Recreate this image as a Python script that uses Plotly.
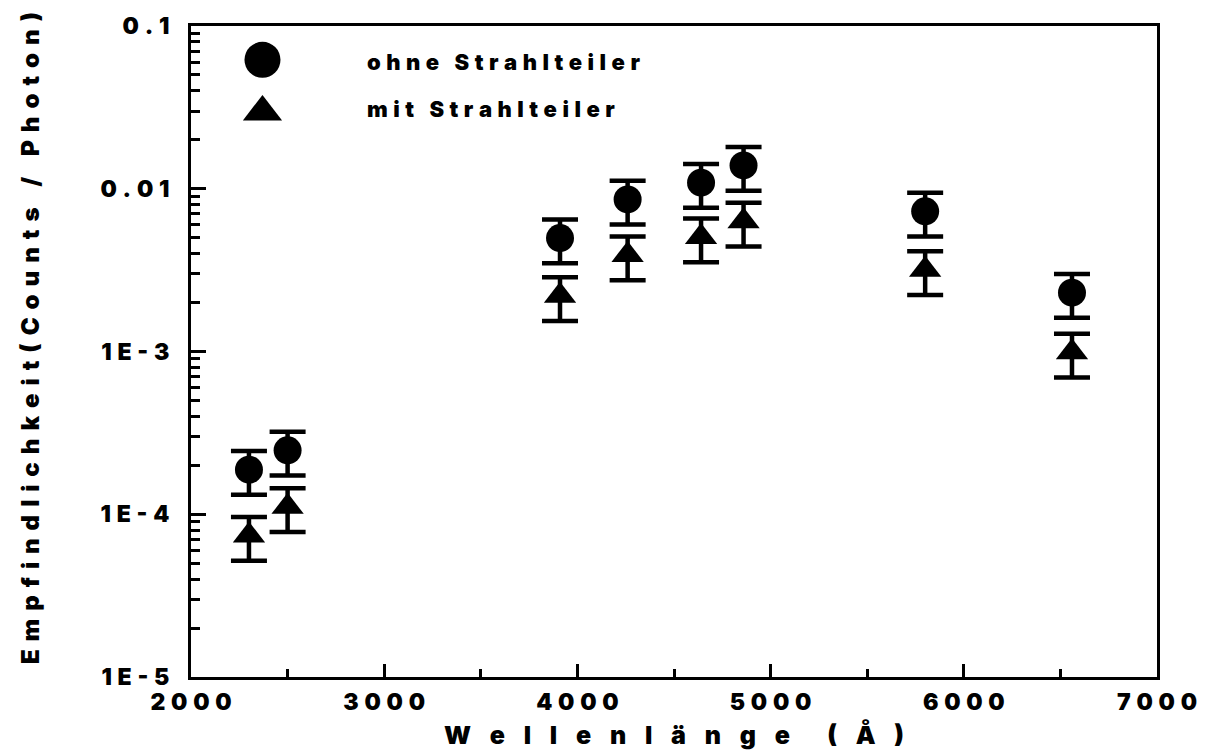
import plotly.graph_objects as go

# Wavelength (Angstrom) of each measurement
wavelength = [2300, 2500, 3910, 4260, 4640, 4860, 5800, 6560]
# Sensitivity without beam splitter (counts / photon)
ohne = [1.88e-4, 2.47e-4, 4.98e-3, 8.6e-3, 1.09e-2, 1.39e-2, 7.27e-3, 2.3e-3]
# Sensitivity with beam splitter (counts / photon)
mit = [7.4e-5, 1.11e-4, 2.2e-3, 3.92e-3, 5.05e-3, 6.32e-3, 3.18e-3, 9.9e-4]
# Relative uncertainty of every point, in percent
err_percent = 30

x_tickvals = [2000, 3000, 4000, 5000, 6000, 7000]
y_tickvals = [1e-5, 1e-4, 1e-3, 1e-2, 1e-1]
y_ticktext = ["1E-5", "1E-4", "1E-3", "0.01", "0.1"]

legend_names = ["ohne Strahlteiler", "mit Strahlteiler"]

FONT = "Inter"
WEIGHT = 900
QUARTER = "\u2005"   # four-per-em space, used as letter spacing
THIRD = "\u2004"     # three-per-em space
WIDE = "\u2002\u2005"


def spaced(text, sep):
    return sep.join(list(text))


fig = go.Figure()

for name, vals, sym in [
    (legend_names[0], ohne, "circle"),
    (legend_names[1], mit, "triangle-up"),
]:
    fig.add_trace(go.Scatter(
        x=wavelength, y=vals, mode="markers", name=name, showlegend=False,
        marker=dict(symbol=sym, size=28, color="black", opacity=1,
                    line=dict(width=0, color="black")),
        error_y=dict(type="percent", value=err_percent, color="black",
                     thickness=4.5, width=18),
    ))

# Key symbols, placed on an invisible overlay axis spanning the plot area
fig.add_trace(go.Scatter(
    x=[0.074, 0.074], y=[0.948, 0.868], mode="markers", showlegend=False,
    marker=dict(symbol=["circle", "triangle-up"], size=[36, 34], color="black",
                opacity=1, line=dict(width=0, color="black")),
    xaxis="x2", yaxis="y2", hoverinfo="skip",
))
for txt, yy in zip(legend_names, [0.944, 0.872]):
    fig.add_annotation(
        text=spaced(txt, QUARTER), x=0.180, y=yy, xref="paper", yref="paper",
        xanchor="left", yanchor="middle", showarrow=False,
        font=dict(family=FONT, size=22, color="black", weight=WEIGHT),
    )

# Axis titles
fig.add_annotation(
    text=spaced("Wellenlänge", WIDE) + WIDE + WIDE + spaced("(Å)", WIDE),
    x=0.5, y=-0.088, xref="paper", yref="paper", xanchor="center",
    yanchor="middle", showarrow=False,
    font=dict(family=FONT, size=25, color="black", weight=WEIGHT),
)
fig.add_annotation(
    text=spaced("Empfindlichkeit(Counts / Photon)", THIRD),
    x=-0.166, y=0.52, xref="paper", yref="paper", xanchor="center",
    yanchor="middle", textangle=-90, showarrow=False,
    font=dict(family=FONT, size=24, color="black", weight=WEIGHT),
)

axis_font = dict(family=FONT, size=23, color="black", weight=WEIGHT)

fig.update_layout(
    width=1209, height=751,
    margin=dict(l=191, r=48, t=20, b=74),
    paper_bgcolor="white", plot_bgcolor="white",
    xaxis=dict(
        range=[2000, 7000], showgrid=False, zeroline=False,
        showline=True, linecolor="black", linewidth=3, mirror=True,
        ticks="inside", ticklen=13, tickwidth=2.5, tickcolor="black",
        tickvals=x_tickvals, ticktext=[spaced(str(v), QUARTER) for v in x_tickvals],
        tickfont=axis_font, ticklabelstandoff=2,
        minor=dict(ticks="inside", ticklen=8, tickwidth=2.5, tickcolor="black",
                   dtick=500, showgrid=False),
    ),
    yaxis=dict(
        type="log", range=[-5, -1], showgrid=False, zeroline=False,
        showline=True, linecolor="black", linewidth=3, mirror=True,
        ticks="inside", ticklen=15, tickwidth=2.5, tickcolor="black",
        tickvals=y_tickvals, ticktext=[spaced(t, QUARTER) for t in y_ticktext],
        tickfont=axis_font, ticklabelstandoff=14,
        minor=dict(ticks="inside", ticklen=9, tickwidth=2.5, tickcolor="black",
                   dtick="D1", showgrid=False),
    ),
    xaxis2=dict(range=[0, 1], overlaying="x", visible=False, fixedrange=True),
    yaxis2=dict(range=[0, 1], overlaying="y", visible=False, fixedrange=True),
)

fig.write_html("out.html")
